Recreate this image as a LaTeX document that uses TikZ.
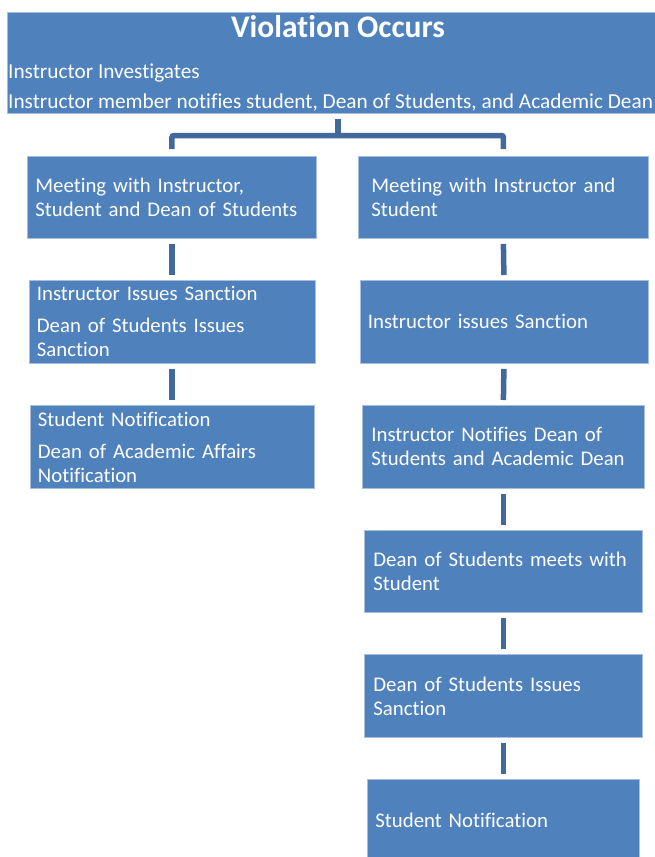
\documentclass[tikz,border=0pt]{standalone}
\usepackage{fontspec}
\setmainfont[Ligatures=NoCommon]{Carlito}
\definecolor{boxblue}{HTML}{4F81BD}
\definecolor{boxedge}{HTML}{A7BEDC}
\definecolor{connblue}{HTML}{41699B}
\begin{document}
\begin{tikzpicture}[x=1pt,y=-1pt,
  box/.style={rectangle, fill=boxblue, draw=boxedge, line width=0.8pt, text=white,
    anchor=north west, align=left, inner xsep=8pt, inner ysep=0pt,
    font=\fontsize{20.8}{24}\selectfont},
  conn/.style={draw=connblue, line width=5.5pt},
  toptext/.style={text=white, inner sep=0pt, anchor=base west, font=\fontsize{21.3}{24}\selectfont}]
\useasboundingbox (0,0) rectangle (655,857);
% top box
\node[rectangle, fill=boxblue, draw=boxedge, line width=0.8pt, anchor=north west,
  minimum width=652pt, minimum height=101pt, inner sep=0pt] (top) at (7,12) {};
\node[text=white, inner sep=0pt, anchor=base, font=\fontsize{31.5}{36}\selectfont\bfseries] (title) at (338,37.5) {Violation Occurs};
\node[toptext] (inv) at (8,78.5) {Instructor Investigates};
\node[toptext] (notif) at (8,108) {Instructor member notifies student, Dean of Students, and Academic Dean};
% left column
\node[box, text width=273pt, minimum height=82pt] (m1) at (27,156)
  {Meeting with Instructor,\\Student and Dean of Students};
\node[box, text width=270pt, minimum height=83pt] (m2) at (28.5,280)
  {Instructor Issues Sanction\\[8pt]Dean of Students Issues\\Sanction};
\node[box, text width=268pt, minimum height=83pt] (m3) at (29.5,405)
  {Student Notification\\[8pt]Dean of Academic Affairs\\Notification};
% right column
\node[box, inner xsep=13pt, text width=264pt, minimum height=82pt] (r1) at (358,156)
  {Meeting with Instructor and\\Student};
\node[box, text width=272pt, minimum height=83pt] (r2) at (359.5,280)
  {Instructor issues Sanction};
\node[box, inner xsep=9pt, text width=264pt, minimum height=83pt] (r3) at (362,405)
  {Instructor Notifies Dean of\\Students and Academic Dean};
\node[box, inner xsep=9pt, text width=260pt, minimum height=82pt] (r4) at (364,530)
  {Dean of Students meets with\\Student};
\node[box, inner xsep=9pt, text width=260pt, minimum height=83pt] (r5) at (364,654)
  {Dean of Students Issues\\Sanction};
\node[box, text width=256pt, minimum height=82pt] (r6) at (367,779)
  {Student Notification};
% connectors
\coordinate (stub) at (338,118.5);
\coordinate (hub) at (338,135.5);
\draw[conn] (stub) -- (hub);
\draw[conn, rounded corners=2pt] ([yshift=7pt]m1.north) |- (hub) -| ([yshift=7pt]r1.north);
\draw[conn] ([yshift=-5pt]m1.south) -- ([yshift=5pt]m2.north);
\draw[conn] ([yshift=-5pt]m2.south) -- ([yshift=5pt]m3.north);
\draw[conn] ([yshift=-5pt]r1.south) -- ([yshift=5pt]r2.north);
\draw[conn] ([yshift=-5pt]r2.south) -- ([yshift=5pt]r3.north);
\draw[conn] ([yshift=-5pt]r3.south) -- ([yshift=5pt]r4.north);
\draw[conn] ([yshift=-5pt]r4.south) -- ([yshift=5pt]r5.north);
\draw[conn] ([yshift=-5pt]r5.south) -- ([yshift=5pt]r6.north);
\end{tikzpicture}
\end{document}
